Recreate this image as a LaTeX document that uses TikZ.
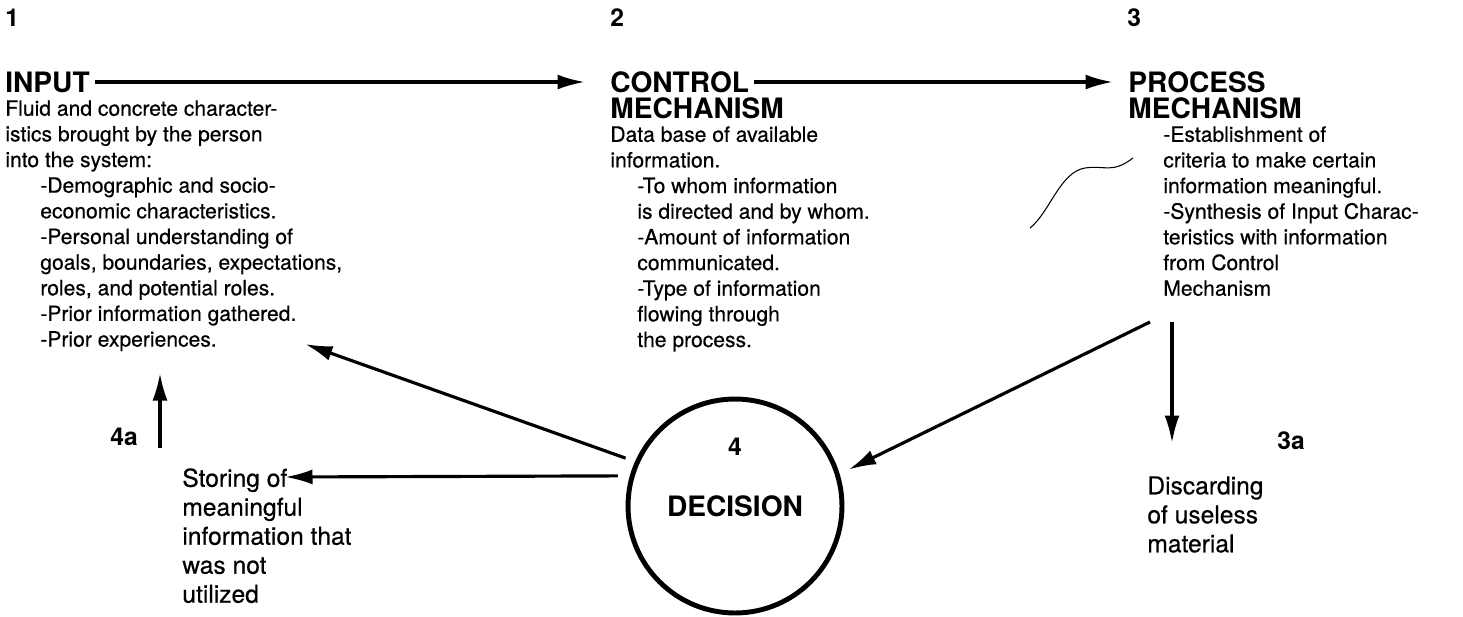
\documentclass[tikz,border=0pt]{standalone}
\usepackage{fontspec}
\setmainfont{TeX Gyre Heros}
\newfontfamily\scanfont{TeX Gyre Heros}[FakeBold=0.5]
\usetikzlibrary{arrows.meta,positioning}

\begin{document}
\begin{tikzpicture}[x=0.02cm,y=-0.02cm,
  num/.style={font=\fontsize{14}{16}\selectfont\bfseries,inner sep=0pt,anchor=west},
  head/.style={font=\fontsize{16}{18}\selectfont\bfseries,inner sep=0pt,anchor=west},
  body/.style={font=\fontsize{12}{14.6}\selectfont\scanfont,align=left,inner sep=0pt,anchor=north west},
  big/.style={font=\fontsize{14}{16.5}\selectfont\scanfont,align=left,inner sep=0pt,anchor=north west},
  flow/.style={-{Latex[length=5.5mm,width=3mm]},line width=1.8pt},
  decide/.style={circle,draw,line width=2.8pt,minimum size=4.28cm,inner sep=0pt,
                 font=\fontsize{16}{18}\selectfont\bfseries}
]
  \useasboundingbox (0,0) rectangle (1463,616);

  % step 1: input
  \node[num] (n1) at (5,18) {1};
  \node[head] (input) at (5,82) {INPUT};
  \node[body] (inputtext) at (5,100)
    {Fluid and concrete character-\\
     istics brought by the person\\
     into the system:\\
     \hspace*{0.7cm}-Demographic and socio-\\
     \hspace*{0.7cm}economic characteristics.\\
     \hspace*{0.7cm}-Personal understanding of\\
     \hspace*{0.7cm}goals, boundaries, expectations,\\
     \hspace*{0.7cm}roles, and potential roles.\\
     \hspace*{0.7cm}-Prior information gathered.\\
     \hspace*{0.7cm}-Prior experiences.};

  % step 2: control mechanism
  \node[num] (n2) at (610,18) {2};
  \node[head] (control) at (610,82) {CONTROL};
  \node[head] (control2) at (610,108) {MECHANISM};
  \node[body] (controltext) at (610,126)
    {Data base of available\\
     information.\\
     \hspace*{0.54cm}-To whom information\\
     \hspace*{0.54cm}is directed and by whom.\\
     \hspace*{0.54cm}-Amount of information\\
     \hspace*{0.54cm}communicated.\\
     \hspace*{0.54cm}-Type of information\\
     \hspace*{0.54cm}flowing through\\
     \hspace*{0.54cm}the process.};

  % step 3: process mechanism
  \node[num] (n3) at (1127,18) {3};
  \node[head] (process) at (1128,82) {PROCESS};
  \node[head] (process2) at (1128,108) {MECHANISM};
  \node[body] (processtext) at (1163,126)
    {-Establishment of\\
     criteria to make certain\\
     information meaningful.\\
     -Synthesis of Input Charac-\\
     teristics with information\\
     from Control\\
     Mechanism};

  % step 4: decision
  \node[decide] (decision) at (735,506) {DECISION};
  \node[num,anchor=center] (n4) at (735,447) {4};

  \node[num] (n4a) at (110,437) {4a};
  \node[big] (storing) at (182,468)
    {Storing of\\
     meaningful\\
     information that\\
     was not\\
     utilized};

  \node[num] (n3a) at (1277,441) {3a};
  \node[big] (discard) at (1147,476)
    {Discarding\\
     of useless\\
     material};

  \coordinate (inpin) at (305,344);
  \coordinate (storein) at (285,477);
  \coordinate (upfrom) at (160,448);
  \coordinate (upto) at (160,373);
  \coordinate (procout) at (1150,322);
  \coordinate (downfrom) at (1172,322);
  \coordinate (downto) at (1172,443);

  \draw[flow,shorten <=0.1cm,shorten >=0.5cm] (input.east) -- (input.east -| control.west);
  \draw[flow,shorten <=0.1cm,shorten >=0.3cm] (control.east) -- (control.east -| process.west);
  \draw[flow,shorten >=0.2cm] (procout) -- (decision.17);
  \draw[flow,shorten <=0.2cm] (decision.156) -- (inpin);
  \draw[flow,shorten <=0.24cm] (decision.164) -- (storein);
  \draw[flow] (upfrom) -- (upto);
  \draw[flow] (downfrom) -- (downto);

  % stray pen stroke
  \draw[line width=0.6pt] (1030,228) .. controls (1050,212) and (1060,172) .. (1085,168)
    .. controls (1105,165) and (1112,174) .. (1133,158);
\end{tikzpicture}
\end{document}
